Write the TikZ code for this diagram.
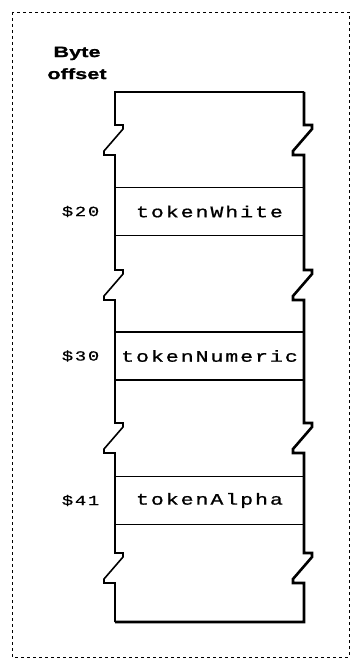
\documentclass[tikz,border=0pt]{standalone}
\usepackage{fontspec}
\usetikzlibrary{positioning}
\newfontfamily\cellfont[LetterSpace=12, FakeStretch=1.35, FakeBold=0.8]{Liberation Mono}
\newfontfamily\headfont[FakeStretch=1.45, FakeBold=1]{Liberation Sans}
\tikzset{
    cell/.style={draw, line width=1.1pt, minimum width=189pt, minimum height=48pt,
        inner sep=0pt, font=\cellfont\fontsize{16}{18}\selectfont},
    offsetlabel/.style={font=\cellfont\fontsize{14}{16}\selectfont, inner sep=0pt},
    wall/.style={line width=1.6pt, line join=miter},
    shadowwall/.style={line width=2.6pt, line join=miter}
}
% one torn break in a column side, starting at (#1,#2)
\newcommand{\tearat}[2]{-- (#1,#2) -- ++(8,0) -- ++(0,4) -- ++(-19,22) -- ++(0,4) -- ++(11,0)}

\begin{document}
\begin{tikzpicture}[x=1pt,y=-1pt]
\useasboundingbox (0,0) rectangle (350,660);
\draw[dashed, dash pattern=on 3pt off 3pt, line width=0.8pt] (12,12) rectangle (349,657);

% the column
\draw[wall] (304,92) -- (115,92) \tearat{115}{125} \tearat{115}{270} \tearat{115}{423}
    \tearat{115}{553} -- (115,622);
\draw[shadowwall] (304,92) \tearat{304}{125} \tearat{304}{270} \tearat{304}{423}
    \tearat{304}{553} -- (304,622) -- (115,622);

\node[cell] (white) at (209.5,211.5) {tokenWhite};
\node[cell] (numeric) at (209.5,356) {tokenNumeric};
\node[cell] (alpha) at (209.5,500.5) {tokenAlpha};

\node[offsetlabel, left=15pt of white] (off20) {\$20};
\node[offsetlabel, left=15pt of numeric] (off30) {\$30};
\node[offsetlabel, left=15pt of alpha] (off41) {\$41};

\node[font=\headfont\bfseries\fontsize{15}{22}\selectfont, align=center] (head) at (77,63) {Byte\\offset};
\end{tikzpicture}
\end{document}
